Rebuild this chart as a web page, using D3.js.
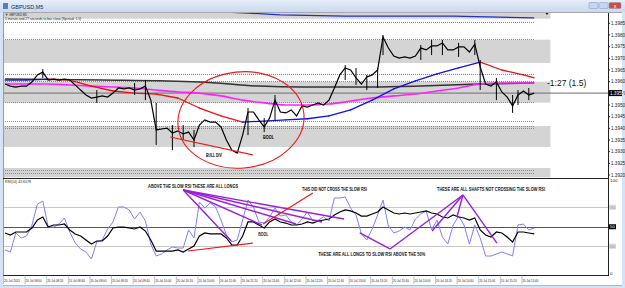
<!DOCTYPE html>
<html><head><meta charset="utf-8">
<script src="https://cdn.jsdelivr.net/npm/d3@7"></script>
<style>body{margin:0;background:#fff}svg{display:block}text{font-family:"Liberation Sans",Arial,sans-serif}</style>
</head><body><svg id="c" width="625" height="288"></svg>
<script>
// ---------- DATA ----------
const closes = [1.39590,1.39581,1.39577,1.39581,1.39581,1.39599,1.39629,1.39641,1.39607,1.39611,
 1.39607,1.39611,1.39607,1.39586,1.39564,1.39543,1.39530,1.39534,1.39539,1.39534,
 1.39551,1.39573,1.39569,1.39573,1.39564,1.39569,1.39581,1.39521,1.39393,1.39397,
 1.39401,1.39380,1.39389,1.39376,1.39384,1.39350,1.39414,1.39436,1.39427,1.39427,
 1.39406,1.39350,1.39307,1.39294,1.39371,1.39470,1.39470,1.39436,1.39406,1.39444,
 1.39521,1.39470,1.39466,1.39479,1.39453,1.39496,1.39491,1.39500,1.39509,1.39500,
 1.39521,1.39573,1.39629,1.39659,1.39650,1.39616,1.39590,1.39620,1.39629,1.39650,
 1.39791,1.39744,1.39710,1.39701,1.39706,1.39701,1.39710,1.39744,1.39736,1.39753,
 1.39753,1.39766,1.39736,1.39736,1.39749,1.39749,1.39727,1.39761,1.39663,1.39590,
 1.39581,1.39599,1.39556,1.39534,1.39496,1.39543,1.39560,1.39543,1.39551];

const spikeBars = [7,17,24,26,28,31,33,35,45,48,50,63,65,67,69,70,77,79,81,84,87,88,91,94,95,97];
const spikeHigh = [1.39654,1.39564,1.39594,1.39607,1.39509,1.39414,1.39414,1.39393,1.39487,1.39444,1.39543,1.39671,1.39659,1.39629,1.39659,1.39800,1.39757,1.39779,1.39779,1.39766,1.39779,1.39693,1.39616,1.39543,1.39564,1.39573];
const spikeLow  = [1.39616,1.39509,1.39543,1.39521,1.39329,1.39307,1.39350,1.39320,1.39371,1.39384,1.39436,1.39607,1.39586,1.39564,1.39573,1.39714,1.39693,1.39714,1.39714,1.39706,1.39714,1.39564,1.39521,1.39466,1.39500,1.39521];

const maBars = [0,4,8,12,16,20,24,28,32,36,40,44,48,52,56,60,64,68,72,76,80,84,88,92,96,98];
const fastMA = [1.39607,1.39607,1.39611,1.39607,1.39581,1.39560,1.39551,1.39547,1.39530,1.39487,1.39453,1.39427,1.39431,1.39436,1.39441,1.39453,1.39479,1.39521,1.39569,1.39603,1.39633,1.39659,1.39684,1.39650,1.39629,1.39616];
const magentaMA = [1.39590,1.39590,1.39590,1.39586,1.39581,1.39577,1.39573,1.39564,1.39556,1.39551,1.39539,1.39521,1.39509,1.39500,1.39500,1.39504,1.39517,1.39530,1.39539,1.39547,1.39560,1.39573,1.39590,1.39594,1.39594,1.39594];
const slowMABars = [0,18,36,47,55,68,77,88,98];
const slowMA = [1.39611,1.39607,1.39599,1.39581,1.39577,1.39577,1.39581,1.39590,1.39594];
const envBars = [38,40,45,51,63,75,83,98];
const envelope = [1.39903,1.39899,1.39894,1.39886,1.39881,1.39881,1.39881,1.39873];

const bandsLo = [1.3987,1.3968,1.3951,1.3932,1.3919];
const bandsHi = [1.3990,1.3978,1.3960,1.3941,1.3923];
const dottedLevels = [1.39856,1.39783,1.39633,1.39603,1.39513,1.39431,1.39410,1.39401,1.39220,1.39210];

const priceTicks = [1.3985,1.3980,1.3975,1.3970,1.3965,1.3960,1.3955,1.3950,1.3945,1.3940,1.3935,1.3930,1.3925,1.3920];
const timeLabels = ["20 Jul 2011","20 Jul 08:00","20 Jul 08:20","20 Jul 08:40","20 Jul 09:00","20 Jul 09:20","20 Jul 09:40",
 "20 Jul 10:00","20 Jul 10:20","20 Jul 10:40","20 Jul 11:00","20 Jul 11:20","20 Jul 11:40","20 Jul 12:00","20 Jul 12:20",
 "20 Jul 12:40","20 Jul 13:00","20 Jul 13:20","20 Jul 13:40","20 Jul 14:00","20 Jul 14:20","20 Jul 14:40","20 Jul 15:00",
 "20 Jul 15:20","20 Jul 15:40"];

const slowRsi = [43.6,41.5,44.6,44.6,44.6,48.7,56.9,60.0,49.7,51.8,
 51.8,52.8,46.7,42.6,40.5,36.4,32.3,35.4,35.4,40.5,
 48.7,49.7,49.7,48.7,47.7,49.7,45.6,36.4,25.1,25.1,
 25.1,25.1,26.2,24.1,27.2,30.3,40.5,43.6,42.6,42.6,
 42.6,38.5,31.3,31.3,40.5,54.9,54.9,51.8,48.7,54.9,
 57.9,54.9,53.8,51.8,51.8,52.8,54.9,53.8,55.9,56.9,
 57.9,62.1,65.1,67.2,66.2,64.1,61.0,61.0,63.1,65.1,
 70.3,67.2,64.1,63.1,64.1,63.1,64.1,65.1,66.2,64.1,
 63.1,60.0,59.0,62.1,60.0,59.0,56.9,59.0,46.7,41.5,
 39.5,44.6,43.6,39.5,34.4,44.6,44.6,43.6,42.6];
const fastRsi = [26.2,24.1,43.6,38.5,40.5,51.8,73.3,76.4,49.7,49.7,
 52.8,59.0,44.6,33.3,27.2,24.1,16.9,34.4,36.4,47.7,
 54.9,70.3,70.3,67.2,57.9,65.1,55.9,32.3,20.0,22.1,
 26.2,29.2,28.2,28.2,46.7,38.5,75.4,69.2,74.4,70.3,
 56.9,41.5,34.4,36.4,56.9,77.4,70.3,54.9,53.8,60.0,
 69.2,61.0,62.1,54.9,51.8,57.9,65.1,55.9,56.9,60.0,
 55.9,79.5,79.5,80.5,69.2,62.1,42.6,36.4,47.7,62.1,
 77.4,50.8,43.6,45.6,49.7,46.7,57.9,63.1,66.2,46.7,
 56.9,39.5,32.3,51.8,61.0,51.8,32.3,51.8,38.5,20.0,
 20.0,22.1,24.1,22.1,20.0,51.8,52.8,46.7,48.7];
const rsiLevels = [70,50,30];
const rsiLabels = ["100","70","50","30","0"];
const rsiLabelVals = [100,70,50,30,0];

// annotations in data coordinates [bar, value]
const purpleRsi = [
 [[33.0,87.7],[41.9,35.4]],[[33.0,87.7],[47.6,51.8]],[[33.0,87.7],[53.9,52.8]],
 [[33.0,87.7],[58.7,54.9]],[[33.0,87.7],[62.8,57.9]],
 [[84.8,82.6],[71.3,27.2]],[[84.8,82.6],[79.1,45.6]],[[84.8,82.6],[83.7,60.0]],
 [[84.8,82.6],[91.1,33.3]],[[65.7,43.6],[71.3,27.2]]];
const redRsi = [[[33.9,25.1],[45.9,33.3]],[[47.8,52.8],[57.0,84.6]]];
const redMain = [[[30.6,1.39363],[45.9,1.39286]]];
const ellipseSpec = {bar:43.7, price:1.39436, rBars:11.7, rPrice:0.00206};
const rsiNotes = [
 {t:"ABOVE THE SLOW RSI THESE ARE ALL LONGS", bar:26.5, v:89.7, w:90},
 {t:"THIS DID NOT CROSS THE SLOW RSI", bar:55.0, v:86.7, w:65},
 {t:"THESE ARE ALL SHAFTS NOT CROSSING THE SLOW RSI", bar:80.0, v:86.7, w:108},
 {t:"THESE ARE ALL LONGS TO  SLOW RSI ABOVE THE 50%", bar:58.0, v:20.0, w:107},
 {t:"BOOL", bar:46.9, v:40.5, w:10}];
const mainNotes = [
 {t:"BULL DIV", bar:37.2, p:1.39277, w:16},
 {t:"BOOL", bar:47.8, p:1.39354, w:11}];

// ---------- LAYOUT ----------
const svg = d3.select("#c");
const PL=3, PR=608, MT=12, MB=178, RB=275;
const x = d3.scaleLinear().domain([0,98]).range([5,534.2]);
const yP = d3.scaleLinear().domain([1.3920,1.3985]).range([175,23.33]);
const yR = d3.scaleLinear().domain([0,100]).range([275.5,178]);

// window chrome
svg.append("rect").attr("width",625).attr("height",288).attr("fill","#d5e3f4");
const g0 = svg.append("defs").append("linearGradient").attr("id","tb").attr("x1",0).attr("x2",0).attr("y1",0).attr("y2",1);
g0.append("stop").attr("offset",0).attr("stop-color","#e6eefa");
g0.append("stop").attr("offset",1).attr("stop-color","#c9d9ef");
svg.append("rect").attr("width",625).attr("height",12).attr("fill","url(#tb)");
svg.append("rect").attr("x",3).attr("y",3).attr("width",5).attr("height",6).attr("fill","#5a7fb5");
svg.append("text").attr("x",11).attr("y",8.5).attr("font-size",5.5).attr("fill","#1a2a40").text("GBPUSD,M5");
[[589,9,"#c6d6ee"],[599,9,"#c6d6ee"],[609,12,"#d24b3e"]].forEach(b=>{
  svg.append("rect").attr("x",b[0]).attr("y",2.5).attr("width",b[1]).attr("height",6).attr("rx",1)
   .attr("fill",b[2]).attr("stroke","#7f97bb").attr("stroke-width",0.5);
});
svg.append("text").attr("x",615).attr("y",7.5).attr("font-size",5).attr("fill","#fff").attr("text-anchor","middle").text("x");

// white chart area
svg.append("rect").attr("x",PL).attr("y",MT).attr("width",622-PL).attr("height",286-MT).attr("fill","#fff");

const defs = svg.append("defs");
defs.append("clipPath").attr("id","cm").append("rect").attr("x",PL).attr("y",MT).attr("width",PR-PL).attr("height",MB-MT);
defs.append("clipPath").attr("id","cr").append("rect").attr("x",PL).attr("y",MB).attr("width",PR-PL).attr("height",RB-MB);

const gm = svg.append("g").attr("clip-path","url(#cm)");
// bands
gm.selectAll("rect.band").data(bandsLo).join("rect").attr("class","band")
  .attr("x",PL).attr("width",x(101)-PL)
  .attr("y",(d,i)=>yP(bandsHi[i])).attr("height",(d,i)=>yP(d)-yP(bandsHi[i]))
  .attr("fill","#d4d4d4");
// dotted levels
gm.selectAll("line.lvl").data(dottedLevels).join("line").attr("class","lvl")
  .attr("x1",PL).attr("x2",x(98)).attr("y1",d=>Math.round(yP(d))+0.5).attr("y2",d=>Math.round(yP(d))+0.5)
  .attr("stroke","#8a8a8a").attr("stroke-width",1).attr("stroke-dasharray","1,1");
// current price line
const last = closes[closes.length-1];
gm.append("line").attr("x1",PL).attr("x2",PR).attr("y1",yP(last)).attr("y2",yP(last)).attr("stroke","#6e6e6e").attr("stroke-width",1);

// envelope top line
gm.append("path").datum(envBars.map((b,i)=>[b,envelope[i]]))
  .attr("d",d3.line().x(d=>x(d[0])).y(d=>yP(d[1]))).attr("fill","none").attr("stroke","#1f2fd0").attr("stroke-width",1.3);
// slow dark MA
gm.append("path").datum(slowMABars.map((b,i)=>[b,slowMA[i]]))
  .attr("d",d3.line().x(d=>x(d[0])).y(d=>yP(d[1])).curve(d3.curveMonotoneX)).attr("fill","none").attr("stroke","#333").attr("stroke-width",1.5);
// magenta MA
gm.append("path").datum(maBars.map((b,i)=>[b,magentaMA[i]]))
  .attr("d",d3.line().x(d=>x(d[0])).y(d=>yP(d[1])).curve(d3.curveMonotoneX)).attr("fill","none").attr("stroke","#ff22ff").attr("stroke-width",1.6);
// fast MA colored by slope
for(let i=0;i<maBars.length-1;i++){
  gm.append("line").attr("x1",x(maBars[i])).attr("y1",yP(fastMA[i])).attr("x2",x(maBars[i+1])).attr("y2",yP(fastMA[i+1]))
    .attr("stroke", fastMA[i+1]>=fastMA[i] ? "#1010ee" : "#ee1010").attr("stroke-width",1.3).attr("stroke-linecap","round");
}
// price
gm.selectAll("line.sp").data(spikeBars).join("line").attr("class","sp")
  .attr("x1",d=>x(d)).attr("x2",d=>x(d)).attr("y1",(d,i)=>yP(spikeHigh[i])).attr("y2",(d,i)=>yP(spikeLow[i]))
  .attr("stroke","#000").attr("stroke-width",1);
gm.append("path").datum(closes).attr("d",d3.line().x((d,i)=>x(i)).y(d=>yP(d)))
  .attr("fill","none").attr("stroke","#000").attr("stroke-width",1.2);
// red annotations on main
gm.selectAll("line.rm").data(redMain).join("line").attr("class","rm")
  .attr("x1",d=>x(d[0][0])).attr("y1",d=>yP(d[0][1])).attr("x2",d=>x(d[1][0])).attr("y2",d=>yP(d[1][1]))
  .attr("stroke","#ee1a1a").attr("stroke-width",1.2);
gm.append("ellipse").attr("cx",x(ellipseSpec.bar)).attr("cy",yP(ellipseSpec.price))
  .attr("rx",x(ellipseSpec.rBars)-x(0)).attr("ry",yP(ellipseSpec.price-ellipseSpec.rPrice)-yP(ellipseSpec.price))
  .attr("transform",`rotate(-6 ${x(ellipseSpec.bar)} ${yP(ellipseSpec.price)})`)
  .attr("fill","none").attr("stroke","#ee1a1a").attr("stroke-width",1.1);
svg.selectAll("text.mn").data(mainNotes).join("text").attr("class","mn")
  .attr("x",d=>x(d.bar)).attr("y",d=>yP(d.p)).attr("font-size",4.5).attr("font-weight","bold")
  .attr("font-family","Liberation Serif").attr("textLength",d=>d.w).attr("lengthAdjust","spacingAndGlyphs").text(d=>d.t);

// main header texts
svg.append("text").attr("x",5).attr("y",15.5).attr("font-size",3.8).attr("fill","#222").attr("textLength",22).attr("lengthAdjust","spacingAndGlyphs").text("▼ GBPUSD,M5");
svg.append("text").attr("x",5).attr("y",20).attr("font-size",3.6).attr("fill","#222").attr("textLength",76).attr("lengthAdjust","spacingAndGlyphs").text("1 minute and 27 seconds to bar close  [Spread: 1.5]");
svg.append("path").attr("d",`M545,12.5 L549,12.5 L547,15 Z`).attr("fill","#222");
svg.append("text").attr("x",547).attr("y",85.5).attr("font-size",8.5).attr("fill","#111").text("-1:27 (1.5)");

// ---------- RSI panel ----------
const gr = svg.append("g").attr("clip-path","url(#cr)");
gr.selectAll("line.rl").data(rsiLevels).join("line").attr("class","rl")
  .attr("x1",PL).attr("x2",PR).attr("y1",d=>Math.round(yR(d))+0.5).attr("y2",d=>Math.round(yR(d))+0.5)
  .attr("stroke",d=>d===50?"#555":"#c8c8c8").attr("stroke-width",1);
gr.append("path").datum(fastRsi).attr("d",d3.line().x((d,i)=>x(i)).y(d=>yR(d)))
  .attr("fill","none").attr("stroke","#7f7fff").attr("stroke-width",1);
gr.append("path").datum(slowRsi).attr("d",d3.line().x((d,i)=>x(i)).y(d=>yR(d)))
  .attr("fill","none").attr("stroke","#000").attr("stroke-width",1.2);
gr.selectAll("line.pr").data(purpleRsi).join("line").attr("class","pr")
  .attr("x1",d=>x(d[0][0])).attr("y1",d=>yR(d[0][1])).attr("x2",d=>x(d[1][0])).attr("y2",d=>yR(d[1][1]))
  .attr("stroke","#9a1fd8").attr("stroke-width",1.4);
gr.selectAll("line.rr").data(redRsi).join("line").attr("class","rr")
  .attr("x1",d=>x(d[0][0])).attr("y1",d=>yR(d[0][1])).attr("x2",d=>x(d[1][0])).attr("y2",d=>yR(d[1][1]))
  .attr("stroke","#ee1a1a").attr("stroke-width",1.2);
svg.selectAll("text.rn").data(rsiNotes).join("text").attr("class","rn")
  .attr("x",d=>x(d.bar)).attr("y",d=>yR(d.v)).attr("font-size",4.6).attr("font-weight","bold")
  .attr("font-family","Liberation Serif").attr("fill","#111")
  .attr("textLength",d=>d.w).attr("lengthAdjust","spacingAndGlyphs").text(d=>d.t);
svg.append("text").attr("x",5).attr("y",182.5).attr("font-size",3.8).attr("fill","#222").attr("textLength",26).attr("lengthAdjust","spacingAndGlyphs").text("RSI(14) 42.6578");

// frames & axes
svg.append("line").attr("x1",PL+0.5).attr("x2",PL+0.5).attr("y1",MT).attr("y2",RB).attr("stroke","#9a9a9a");
svg.append("line").attr("x1",PR+0.5).attr("x2",PR+0.5).attr("y1",MT).attr("y2",RB+1).attr("stroke","#222");
svg.append("line").attr("x1",PL).attr("x2",PR).attr("y1",MB+0.5).attr("y2",MB+0.5).attr("stroke","#222");
svg.append("line").attr("x1",PL).attr("x2",PR).attr("y1",RB+0.5).attr("y2",RB+0.5).attr("stroke","#222");
svg.append("line").attr("x1",PL).attr("x2",622).attr("y1",MT+0.5).attr("y2",MT+0.5).attr("stroke","#a8a8a8");

// price axis
svg.selectAll("text.pt").data(priceTicks).join("text").attr("class","pt")
  .attr("x",611).attr("y",d=>yP(d)+1.6).attr("font-size",4.6).attr("fill","#222").text(d=>d.toFixed(4));
svg.selectAll("line.ptk").data(priceTicks).join("line").attr("class","ptk")
  .attr("x1",PR).attr("x2",PR+2).attr("y1",d=>yP(d)).attr("y2",d=>yP(d)).attr("stroke","#222");
svg.append("rect").attr("x",PR+1).attr("y",yP(last)-3).attr("width",13).attr("height",6).attr("fill","#000");
svg.append("text").attr("x",PR+2).attr("y",yP(last)+1.7).attr("font-size",4.6).attr("fill","#fff").text(last.toFixed(4));

// rsi axis
svg.selectAll("rect.rb").data(rsiLabelVals).join("rect").attr("class","rb")
  .attr("x",PR+1).attr("y",d=>yR(d)-2.5).attr("width",d=>(d===70||d===30||d===50)?7:0).attr("height",5)
  .attr("fill",d=>d===50?"#000":"#d8d8d8");
svg.selectAll("text.rt").data(rsiLabelVals).join("text").attr("class","rt")
  .attr("x",PR+2).attr("y",d=>d===100?yR(d)+3.5:(d===0?yR(d)-0.5:yR(d)+1.6)).attr("font-size",4.4)
  .attr("fill",d=>d===50?"#fff":(d===70||d===30?"#999":"#222")).text((d,i)=>rsiLabels[i]);

// time axis
svg.selectAll("text.tt").data(timeLabels).join("text").attr("class","tt")
  .attr("x",(d,i)=>x(i*4)-1).attr("y",282.3).attr("font-size",3.9).attr("fill","#222")
  .attr("textLength",16).attr("lengthAdjust","spacingAndGlyphs").text(d=>d);
svg.selectAll("line.ttk").data(timeLabels).join("line").attr("class","ttk")
  .attr("x1",(d,i)=>x(i*4)-1.5).attr("x2",(d,i)=>x(i*4)-1.5).attr("y1",RB).attr("y2",284).attr("stroke","#888").attr("stroke-width",0.5);
svg.append("line").attr("x1",PL).attr("x2",622).attr("y1",285.5).attr("y2",285.5).attr("stroke","#b8b8b8");
svg.append("rect").attr("x",0).attr("y",286).attr("width",625).attr("height",2).attr("fill","#d5e3f4");
</script>
</body></html>
